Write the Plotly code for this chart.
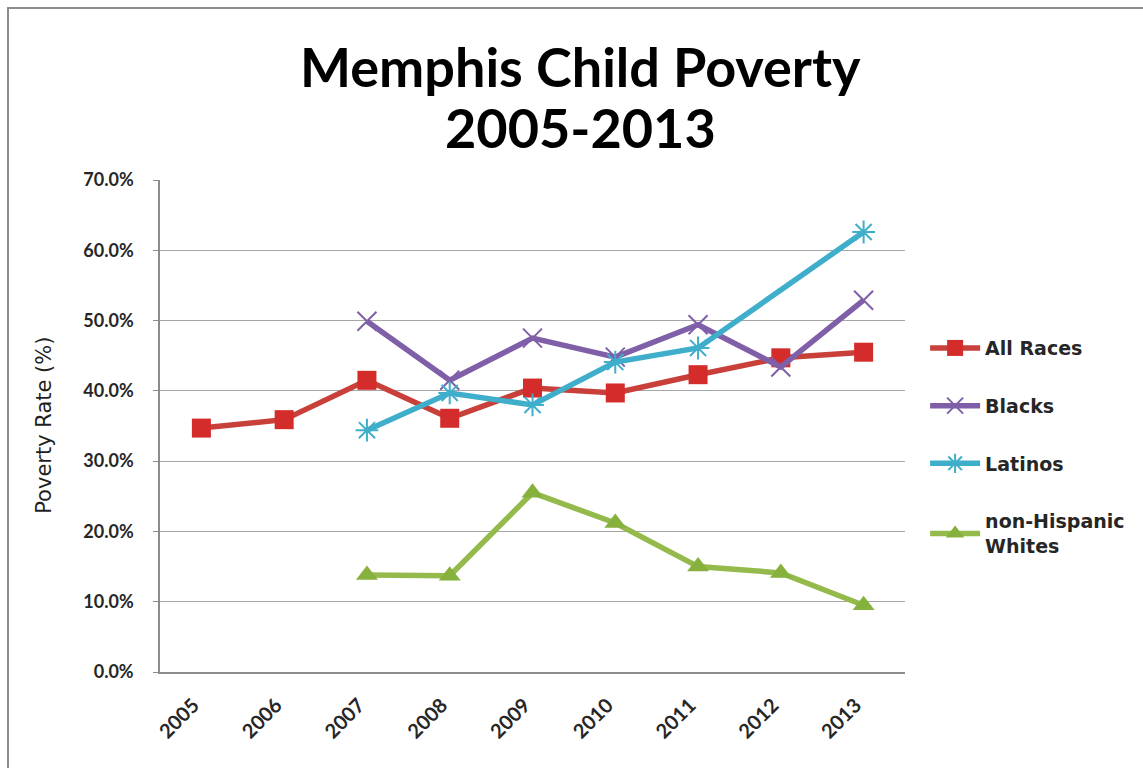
import plotly.graph_objects as go

years = ["2005", "2006", "2007", "2008", "2009", "2010", "2011", "2012", "2013"]

all_races = [34.7, 35.9, 41.5, 36.1, 40.4, 39.7, 42.3, 44.7, 45.5]
blacks = [None, None, 49.9, 41.5, 47.5, 44.8, 49.4, 43.4, 52.9]
latinos = [None, None, 34.4, 39.7, 38.0, 44.1, 46.1, None, 62.6]
nh_whites = [None, None, 13.8, 13.7, 25.5, 21.2, 15.0, 14.1, 9.5]

title_lines = ["Memphis Child Poverty", "2005-2013"]

FONT = "Lato"
WIDE = "DejaVu Sans"
TEXT = "#262626"

fig = go.Figure()

fig.add_trace(go.Scatter(
    x=years, y=all_races, name="All Races", mode="lines+markers",
    legendgroup="a",
    line=dict(color="#C9403A", width=5.5),
    marker=dict(symbol="square", size=19, color="#D42B2B"),
))
fig.add_trace(go.Scatter(
    x=years, y=blacks, name="Blacks", mode="lines+markers",
    legendgroup="b", connectgaps=True,
    line=dict(color="#7F5FA8", width=5.5),
    marker=dict(symbol="x-thin", size=19, color="#7F5FA8",
                line=dict(color="#7F5FA8", width=2)),
))
fig.add_trace(go.Scatter(
    x=years, y=latinos, name="Latinos", mode="lines+markers",
    legendgroup="c", connectgaps=True,
    line=dict(color="#3FAECB", width=5.5),
    marker=dict(symbol="asterisk", size=19, color="#3FAECB",
                line=dict(color="#3FAECB", width=2)),
))
fig.add_trace(go.Scatter(
    x=years, y=nh_whites, name="non-Hispanic<br>Whites", mode="lines+markers",
    legendgroup="d", connectgaps=True,
    line=dict(color="#94BA4C", width=5.5),
    marker=dict(symbol="triangle-up", size=19, color="#86B13C"),
))

# outer chart frame
fig.add_shape(type="rect", xref="paper", yref="paper",
              x0=-0.204, x1=2.0, y0=-1.0, y1=1.3496,
              line=dict(color="#8C8C8C", width=2), layer="below")

# two-line chart title
for text, ypos in zip(title_lines, [1.2317, 1.1057]):
    fig.add_annotation(
        text=f"<b>{text}</b>", showarrow=False,
        xref="paper", yref="paper", x=0.565, y=ypos,
        xanchor="center", yanchor="middle",
        font=dict(family=FONT, size=54, color="black"),
    )

fig.add_annotation(
    text="Poverty Rate (%)", textangle=-90, showarrow=False,
    xref="paper", yref="paper", x=-0.156, y=0.502,
    xanchor="center", yanchor="middle",
    font=dict(family=WIDE, size=21, color="#1F1F1F"),
)

fig.update_layout(
    width=1143, height=768,
    margin=dict(l=160, r=238, t=180, b=96),
    paper_bgcolor="white", plot_bgcolor="white",
    font=dict(family=FONT, color=TEXT),
    showlegend=True,
    legend=dict(
        x=1.027, xanchor="left", y=0.697, yanchor="top",
        font=dict(family=WIDE, size=19, color=TEXT, weight="bold"),
        tracegroupgap=30, itemwidth=50,
        bgcolor="rgba(0,0,0,0)",
    ),
    xaxis=dict(
        type="category", range=[-0.5, 8.5],
        showline=True, linecolor="#8C8C8C", linewidth=1.5,
        showgrid=False, ticks="", tickangle=-45,
        tickfont=dict(family=FONT, size=20, color=TEXT, weight="bold"),
        ticklabelstandoff=12, ticklabelshift=-8,
    ),
    yaxis=dict(
        range=[0, 70], dtick=10, tickformat=".1f", ticksuffix="%",
        showline=True, linecolor="#8C8C8C", linewidth=1.5,
        showgrid=True, gridcolor="#A6A6A6", gridwidth=1.2,
        ticks="outside", ticklen=5, tickcolor="#8C8C8C",
        tickfont=dict(family=FONT, size=18, color=TEXT, weight="bold"),
        ticklabelstandoff=16, zeroline=False,
    ),
)

fig.write_html("out.html")
